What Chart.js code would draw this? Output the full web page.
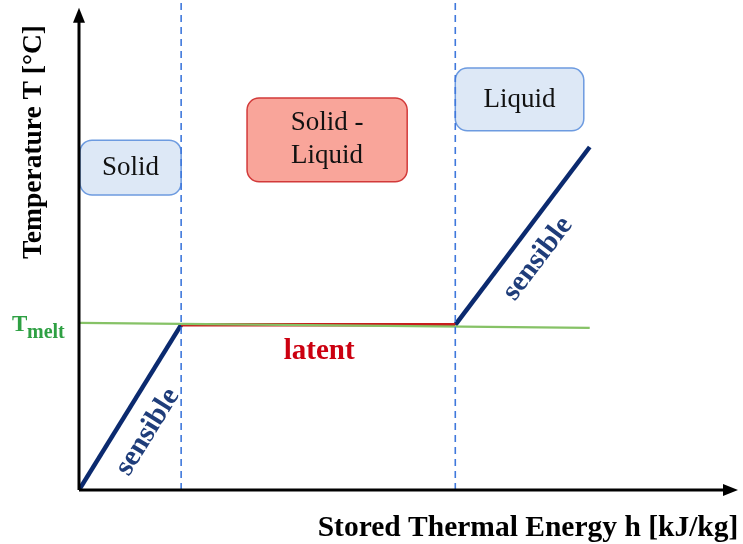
<!DOCTYPE html>
<html>
<head>
<meta charset="utf-8">
<script src="https://cdn.jsdelivr.net/npm/chart.js@4"></script>
<style>
  body { margin: 0; background: #fff; }
  #wrap { width: 743px; height: 544px; }
</style>
</head>
<body>
<div id="wrap"><canvas id="chart" width="743" height="544"></canvas></div>
<script>
// energy h (arbitrary units) and temperature T (arbitrary units)
const hSolidEnd = 15.5;
const hLiquidStart = 57.1;
const hEnd = 77.5;
const tMelt = 33.7;
const tEnd = 70;

const solidX = [0, hSolidEnd];
const solidY = [0, tMelt];
const latentX = [hSolidEnd, hLiquidStart];
const latentY = [tMelt, tMelt];
const liquidX = [hLiquidStart, hEnd];
const liquidY = [tMelt, tEnd];
const meltLineX = [0, hEnd];
const meltLineY = [34.1, 33.1];
const phaseBounds = [hSolidEnd, hLiquidStart];

const toPoints = (xs, ys) => xs.map((x, i) => ({ x: x, y: ys[i] }));

const serif = '"Liberation Serif", "Times New Roman", serif';

const boxes = [
  { x0: 0.15, x1: 15.5, y0: 71.4, y1: 60.2, lines: ['Solid'], fill: '#dde8f6', stroke: '#6d9be0' },
  { x0: 25.5, x1: 49.8, y0: 80, y1: 62.9, lines: ['Solid -', 'Liquid'], fill: '#f9a59a', stroke: '#d23a3a' },
  { x0: 57.1, x1: 76.6, y0: 86.1, y1: 73.3, lines: ['Liquid'], fill: '#dde8f6', stroke: '#6d9be0' }
];

function roundRect(ctx, x, y, w, h, r) {
  ctx.beginPath();
  ctx.moveTo(x + r, y);
  ctx.arcTo(x + w, y, x + w, y + h, r);
  ctx.arcTo(x + w, y + h, x, y + h, r);
  ctx.arcTo(x, y + h, x, y, r);
  ctx.arcTo(x, y, x + w, y, r);
  ctx.closePath();
}

function alongLabel(ctx, xs, ys, sx, sy, t, off, text) {
  const ax = sx.getPixelForValue(xs[0]), ay = sy.getPixelForValue(ys[0]);
  const bx = sx.getPixelForValue(xs[1]), by = sy.getPixelForValue(ys[1]);
  const ang = Math.atan2(by - ay, bx - ax);
  ctx.save();
  ctx.translate(ax + (bx - ax) * t, ay + (by - ay) * t);
  ctx.rotate(ang);
  ctx.fillText(text, 0, off);
  ctx.restore();
}

const decor = {
  id: 'decor',
  beforeDatasetsDraw(chart) {
    const ctx = chart.ctx, sx = chart.scales.x, sy = chart.scales.y;
    boxes.forEach(b => {
      const x = sx.getPixelForValue(b.x0), y = sy.getPixelForValue(b.y0);
      const w = sx.getPixelForValue(b.x1) - x, h = sy.getPixelForValue(b.y1) - y;
      ctx.save();
      roundRect(ctx, x, y, w, h, 12);
      ctx.fillStyle = b.fill;
      ctx.fill();
      ctx.lineWidth = 1.5;
      ctx.strokeStyle = b.stroke;
      ctx.stroke();
      ctx.fillStyle = '#111';
      ctx.font = '27px ' + serif;
      ctx.textAlign = 'center';
      ctx.textBaseline = 'middle';
      const cx = x + w / 2, cy = y + h / 2;
      const lh = 33;
      b.lines.forEach((ln, i) => {
        ctx.fillText(ln, cx, cy + (i - (b.lines.length - 1) / 2) * lh);
      });
      ctx.restore();
    });
  },
  afterDatasetsDraw(chart) {
    const ctx = chart.ctx, sx = chart.scales.x, sy = chart.scales.y;
    const ox = sx.getPixelForValue(0), oy = sy.getPixelForValue(0);
    const xEnd = sx.getPixelForValue(100), yEnd = sy.getPixelForValue(98.4);
    ctx.save();
    ctx.strokeStyle = '#000';
    ctx.fillStyle = '#000';
    ctx.lineWidth = 3;
    ctx.beginPath();
    ctx.moveTo(ox, oy);
    ctx.lineTo(xEnd - 12, oy);
    ctx.moveTo(ox, oy);
    ctx.lineTo(ox, yEnd + 12);
    ctx.stroke();
    ctx.beginPath();
    ctx.moveTo(xEnd, oy);
    ctx.lineTo(xEnd - 15, oy - 6);
    ctx.lineTo(xEnd - 15, oy + 6);
    ctx.closePath();
    ctx.fill();
    ctx.beginPath();
    ctx.moveTo(ox, yEnd);
    ctx.lineTo(ox - 6, yEnd + 15);
    ctx.lineTo(ox + 6, yEnd + 15);
    ctx.closePath();
    ctx.fill();

    // axis titles
    ctx.font = 'bold 29.5px ' + serif;
    ctx.textAlign = 'center';
    ctx.textBaseline = 'alphabetic';
    ctx.fillText('Stored Thermal Energy h [kJ/kg]', 528, 536);
    ctx.font = 'bold 27.5px ' + serif;
    ctx.save();
    ctx.translate(41, 142);
    ctx.rotate(-Math.PI / 2);
    ctx.fillText('Temperature T [°C]', 0, 0);
    ctx.restore();

    // T melt
    const ym = sy.getPixelForValue(tMelt);
    ctx.fillStyle = '#2ea043';
    ctx.textAlign = 'left';
    ctx.font = 'bold 23px ' + serif;
    ctx.fillText('T', 12, ym + 6);
    ctx.font = 'bold 20px ' + serif;
    ctx.fillText('melt', 27, ym + 13);

    // latent
    ctx.fillStyle = '#cc0010';
    ctx.textAlign = 'center';
    ctx.textBaseline = 'middle';
    ctx.font = 'bold 29px ' + serif;
    ctx.fillText('latent', sx.getPixelForValue((hSolidEnd + hLiquidStart) / 2) + 1, ym + 27);

    // sensible
    ctx.fillStyle = '#1f3d7a';
    ctx.font = 'bold 29px ' + serif;
    alongLabel(ctx, solidX, solidY, sx, sy, 0.44, 28, 'sensible');
    alongLabel(ctx, liquidX, liquidY, sx, sy, 0.46, 26, 'sensible');
    ctx.restore();
  }
};

const dashColor = '#3f78dc';

new Chart(document.getElementById('chart'), {
  type: 'scatter',
  data: {
    datasets: [
      ...phaseBounds.map(h => ({
        data: toPoints([h, h], [0, 100]),
        showLine: true, pointRadius: 0, borderColor: dashColor, borderWidth: 1.6, borderDash: [7, 5]
      })),
      { data: toPoints(meltLineX, meltLineY), showLine: true, pointRadius: 0, borderColor: '#86c266', borderWidth: 2.2 },
      { data: toPoints(latentX, latentY), showLine: true, pointRadius: 0, borderColor: '#c81e1e', borderWidth: 3.5 },
      { data: toPoints(solidX, solidY), showLine: true, pointRadius: 0, borderColor: '#0b2a6f', borderWidth: 4.5 },
      { data: toPoints(liquidX, liquidY), showLine: true, pointRadius: 0, borderColor: '#0b2a6f', borderWidth: 4.5 }
    ]
  },
  options: {
    responsive: false,
    animation: false,
    layout: { padding: { left: 79, right: 5, top: 0, bottom: 54 } },
    plugins: { legend: { display: false }, tooltip: { enabled: false } },
    scales: {
      x: { type: 'linear', min: 0, max: 100, display: false },
      y: { type: 'linear', min: 0, max: 100, display: false }
    }
  },
  plugins: [decor]
});
</script>
</body>
</html>
